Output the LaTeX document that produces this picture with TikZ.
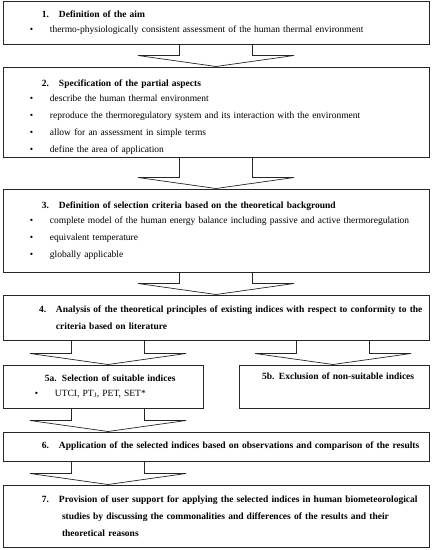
\documentclass[tikz,border=0pt]{standalone}
\usepackage{fontspec}
\setmainfont{Liberation Serif}
\usetikzlibrary{calc}

% heading line: number and bold title
\newcommand{\hd}[3][39pt]{\hspace*{#1}\makebox[17pt][l]{\bfseries #2}\textbf{#3}}
% bullet line
\newcommand{\bul}[2][27pt]{\hspace*{#1}\makebox[20pt][l]{\textbullet}#2}

\begin{document}
\begin{tikzpicture}[
        x=1pt, y=-1pt,
        font=\fontsize{9.5}{17}\selectfont,
        stepbox/.style={draw=black!85, line width=1pt, inner xsep=0pt, inner ysep=0pt, align=left},
        blockarrow/.style={draw=black!85, line width=0.7pt, line join=miter}
    ]
    \useasboundingbox (0,0) rectangle (432,550);
    % Steps of the method
    \node[stepbox, text width=426pt, minimum height=43] (b1) at (216,22.5)
        {\hd{1.}{Definition of the aim}\\[-2pt]
         \bul{thermo-physiologically consistent assessment of the human thermal environment}};
    \node[stepbox, text width=426pt, minimum height=90] (b2) at (216,112)
        {\rule{0pt}{17pt}\hd{2.}{Specification of the partial aspects}\\[-2pt]
         \bul{describe the human thermal environment}\\
         \bul{reproduce the thermoregulatory system and its interaction with the environment}\\
         \bul{allow for an assessment in simple terms}\\
         \bul{define the area of application}};
    \node[stepbox, text width=426pt, minimum height=83] (b3) at (216,230.5)
        {\hd{3.}{Definition of selection criteria based on the theoretical background}\\[-2pt]
         \bul{complete model of the human energy balance including passive and active thermoregulation}\\
         \bul{equivalent temperature}\\
         \bul{globally applicable}};
    \node[stepbox, text width=426pt, minimum height=45] (b4) at (216,317.5)
        {\hd[36pt]{4.}{Analysis of the theoretical principles of existing indices with respect to conformity to the}\\
         \hspace*{53pt}\textbf{criteria based on literature}};
    \node[stepbox, text width=200pt, minimum height=43] (b5a) at (103,386.5)
        {\hd[42pt]{5a.}{Selection of suitable indices}\\[-2pt]
         \bul[32pt]{UTCI, PT\textsubscript{J}, PET, SET*}};
    \node[stepbox, text width=190pt, minimum height=43] (b5b) at (334,386.5)
        {\hd[23pt]{5b.}{Exclusion of non-suitable indices}\\[-2pt]
         \strut};
    \node[stepbox, text width=426pt, minimum height=29] (b6) at (216,446.5)
        {\hd{6.}{Application of the selected indices based on observations and comparison of the results}};
    \node[stepbox, text width=426pt, minimum height=62] (b7) at (216,516)
        {\hd{7.}{Provision of user support for applying the selected indices in human biometeorological}\\
         \hspace*{59pt}\textbf{studies by discussing the commonalities and differences of the results and their}\\
         \hspace*{59pt}\textbf{theoretical reasons}};
    % Block arrows between the steps
    \foreach \src/\dst/\cx in {b1/b2/216, b2/b3/216, b3/b4/216, b4/b5a/108,
                               b4/b5b/333, b5a/b6/108, b6/b7/108} {
        \draw[blockarrow] let \p1=(\src.south), \p2=(\dst.north) in
            (\cx pt-36.5pt,\y1) -- (\cx pt-36.5pt,\y2+11pt) -- (\cx pt-78pt,\y2+11pt)
            -- (\cx pt,\y2) -- (\cx pt+78pt,\y2+11pt) -- (\cx pt+36.5pt,\y2+11pt)
            -- (\cx pt+36.5pt,\y1);
    }
\end{tikzpicture}
\end{document}
